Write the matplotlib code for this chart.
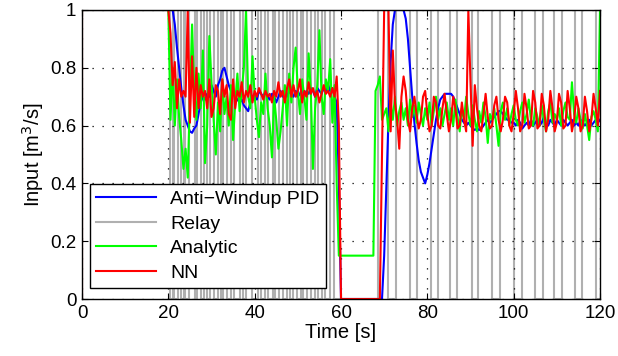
import numpy as np
import matplotlib
matplotlib.use("Agg")
import matplotlib.pyplot as plt

plt.rcParams['font.family'] = ['Liberation Sans', 'DejaVu Sans']

# ---- data ------------------------------------------------------------------
# sampled segments (0.5 s grid) : 20..60 s and 70..120 s
t_seg1 = np.arange(20, 60.001, 0.5)
t_seg2 = np.arange(70, 120.001, 0.5)

# Anti-Windup PID
pid_seg1 = [1.00, 1.00, 1.00, 0.95, 0.87, 0.80, 0.73, 0.67, 0.62, 0.60,
            0.58, 0.575, 0.59, 0.60, 0.64, 0.68, 0.70, 0.69, 0.71, 0.70,
            0.74, 0.72, 0.70, 0.74, 0.76, 0.79, 0.80, 0.77, 0.74, 0.72,
            0.72, 0.70, 0.69, 0.68, 0.69, 0.67, 0.66, 0.65, 0.68, 0.70,
            0.71, 0.69, 0.72, 0.71, 0.70, 0.72, 0.70, 0.69, 0.71, 0.70,
            0.68, 0.70, 0.72, 0.70, 0.71, 0.70, 0.72, 0.71, 0.70, 0.72,
            0.70, 0.71, 0.73, 0.70, 0.72, 0.71, 0.73, 0.72, 0.70, 0.73,
            0.72, 0.71, 0.73, 0.72, 0.74, 0.72, 0.73, 0.70, 0.68, 0.40,
            0.00]
pid_seg2 = [0.15, 0.38, 0.62, 0.82, 0.95, 1.00, 1.00, 1.00, 1.00, 1.00,
            0.97, 0.90, 0.80, 0.70, 0.61, 0.54, 0.48, 0.44, 0.42, 0.40,
            0.43, 0.47, 0.52, 0.57, 0.62, 0.66, 0.69, 0.70, 0.71, 0.71,
            0.71, 0.71, 0.70, 0.68, 0.66, 0.64, 0.62, 0.61, 0.60, 0.61,
            0.60, 0.59, 0.585, 0.59, 0.585, 0.59, 0.60, 0.61, 0.62, 0.61,
            0.62, 0.63, 0.64, 0.65, 0.65, 0.64, 0.63, 0.62, 0.62, 0.61,
            0.61, 0.60, 0.62, 0.61, 0.59, 0.60, 0.61, 0.60, 0.62, 0.60,
            0.61, 0.62, 0.60, 0.61, 0.63, 0.61, 0.60, 0.62, 0.61, 0.60,
            0.62, 0.61, 0.60, 0.62, 0.61, 0.60, 0.61, 0.62, 0.60, 0.61,
            0.60, 0.62, 0.61, 0.60, 0.61, 0.62, 0.60, 0.61, 0.62, 0.61,
            0.62]

# Analytic
ana_seg1 = [1.00, 0.62, 0.80, 0.60, 0.76, 0.63, 0.55, 0.45, 0.52, 0.42,
            0.70, 0.95, 0.72, 0.62, 0.78, 0.66, 0.86, 0.47, 0.60, 0.91,
            0.75, 0.62, 0.50, 0.68, 0.58, 0.76, 0.64, 0.70, 0.60, 0.74,
            0.55, 0.68, 0.78, 0.65, 0.72, 0.80, 1.00, 0.70, 0.66, 0.84,
            0.70, 0.62, 0.56, 0.68, 0.64, 0.78, 0.66, 0.60, 0.49, 0.70,
            0.62, 0.52, 0.58, 0.66, 0.74, 0.60, 0.78, 0.68, 0.80, 0.87,
            0.72, 0.64, 0.76, 0.70, 0.62, 0.85, 0.72, 0.45, 0.66, 0.74,
            0.93, 0.70, 0.64, 0.76, 0.72, 0.83, 0.61, 0.74, 0.40, 0.15,
            0.15]
ana_seg2 = [0.64, 0.66, 0.58, 0.68, 0.62, 0.70, 0.60, 0.65, 0.68, 0.62,
            0.66, 0.60, 0.69, 0.63, 0.67, 0.61, 0.68, 0.64, 0.60, 0.66,
            0.62, 0.68, 0.60, 0.65, 0.70, 0.62, 0.66, 0.60, 0.64, 0.68,
            0.62, 0.66, 0.60, 0.69, 0.63, 0.58, 0.66, 0.62, 0.70, 0.64,
            0.60, 0.67, 0.62, 0.58, 0.65, 0.61, 0.68, 0.63, 0.54, 0.64,
            0.62, 0.66, 0.60, 0.53, 0.65, 0.68, 0.62, 0.66, 0.60, 0.64,
            0.67, 0.62, 0.60, 0.65, 0.68, 0.61, 0.64, 0.69, 0.62, 0.60,
            0.66, 0.63, 0.60, 0.67, 0.62, 0.58, 0.65, 0.68, 0.61, 0.64,
            0.62, 0.66, 0.60, 0.65, 0.68, 0.63, 0.62, 0.75, 0.64, 0.61,
            0.66, 0.62, 0.59, 0.64, 0.60, 0.55, 0.63, 0.65, 0.62, 0.58,
            1.00]

# NN
nn_seg1 = [1.00, 0.92, 0.74, 0.82, 0.66, 0.76, 0.70, 0.72, 0.70, 1.00,
           0.61, 0.84, 0.63, 0.80, 0.66, 0.74, 0.70, 0.72, 0.66, 0.76,
           0.63, 0.66, 0.74, 0.72, 0.64, 0.76, 0.70, 0.74, 0.64, 0.62,
           0.76, 0.66, 0.72, 0.70, 0.75, 0.68, 0.72, 0.70, 0.74, 0.68,
           0.72, 0.70, 0.73, 0.71, 0.69, 0.72, 0.70, 0.71, 0.68, 0.72,
           0.70, 0.75, 0.70, 0.72, 0.68, 0.73, 0.76, 0.70, 0.74, 0.70,
           0.72, 0.76, 0.68, 0.72, 0.70, 0.75, 0.71, 0.73, 0.70, 0.72,
           0.68, 0.71, 0.74, 0.71, 0.72, 0.70, 0.73, 0.70, 0.77, 0.60,
           0.00]
nn_seg2 = [1.00, 1.00, 1.00, 0.58, 0.86, 0.68, 0.62, 0.52, 0.70, 0.77,
           0.72, 0.62, 0.58, 0.66, 0.70, 0.64, 0.59, 0.62, 0.70, 0.72,
           0.64, 0.58, 0.60, 0.70, 0.68, 0.60, 0.59, 0.66, 0.71, 0.64,
           0.58, 0.62, 0.70, 0.66, 0.59, 0.60, 0.68, 0.62, 0.58, 1.00,
           0.75, 0.53, 0.74, 0.66, 0.60, 0.58, 0.64, 0.71, 0.63, 0.59,
           0.60, 0.67, 0.70, 0.62, 0.58, 0.62, 0.70, 0.68, 0.60, 0.58,
           0.64, 0.72, 0.66, 0.58, 0.60, 0.71, 0.66, 0.59, 0.60, 0.72,
           0.68, 0.59, 0.60, 0.71, 0.67, 0.58, 0.62, 0.72, 0.66, 0.58,
           0.61, 0.71, 0.68, 0.59, 0.60, 0.72, 0.66, 0.58, 0.62, 0.70,
           0.66, 0.58, 0.60, 0.70, 0.65, 0.58, 0.62, 0.71, 0.66, 0.60,
           0.72]

# steady parts outside the sampled segments (time, value)
pid_pre_t, pid_pre_u = [0, 19.5], [1.0, 1.0]
pid_mid_t, pid_mid_u = [65.0, 69.5], [0.0, 0.0]
ana_pre_t, ana_pre_u = [0, 19.5], [1.0, 1.0]
ana_mid_t = [65.0, 67.5, 68.0, 68.5, 69.0, 69.5]
ana_mid_u = [0.15, 0.15, 0.72, 0.74, 0.77, 0.62]
nn_pre_t, nn_pre_u = [0, 0, 19.5], [0.0, 1.0, 1.0]
nn_mid_t, nn_mid_u = [65.0, 69.0, 69.5], [0.0, 0.0, 0.5]

# Relay: switching instants and the level held after each one
relay_t = [0, 20.3, 21.0, 21.3, 22.2, 22.9, 23.6, 23.9, 24.8, 26.1, 26.6,
           27.6, 28.3, 29.0, 29.6, 30.6, 31.5, 32.2, 32.7, 33.6, 34.5,
           35.2, 36.6, 37.3, 38.0, 39.3, 40.8, 41.4, 42.4, 43.1, 44.2,
           44.8, 45.6, 46.6, 47.5, 48.2, 48.9, 49.8, 50.7, 51.3, 52.1,
           53.0, 54.0, 54.6, 55.6, 56.4, 57.4, 58.4, 68.6, 70.9, 72.7,
           76.0, 77.6, 80.8, 82.5, 85.2, 86.9, 90.3, 91.7, 95.0, 96.8,
           100.1, 101.9, 104.9, 106.8, 109.3, 111.2, 114.2, 115.8, 119.0,
           120.0]
relay_u = [1, 0, 1, 0, 1, 0, 1, 0, 1, 0, 1,
           0, 1, 0, 1, 0, 1, 0, 1, 0, 1,
           0, 1, 0, 1, 0, 1, 0, 1, 0, 1,
           0, 1, 0, 1, 0, 1, 0, 1, 0, 1,
           0, 1, 0, 1, 0, 1, 0, 1, 0, 1,
           0, 1, 0, 1, 0, 1, 0, 1, 0, 1,
           0, 1, 0, 1, 0, 1, 0, 1, 0,
           0]

# ---- assemble ----------------------------------------------------------------
pid_t = np.concatenate([pid_pre_t, t_seg1, pid_mid_t, t_seg2])
pid_u = np.concatenate([pid_pre_u, pid_seg1, pid_mid_u, pid_seg2])
ana_t = np.concatenate([ana_pre_t, t_seg1, ana_mid_t, t_seg2])
ana_u = np.concatenate([ana_pre_u, ana_seg1, ana_mid_u, ana_seg2])
nn_t = np.concatenate([nn_pre_t, t_seg1, nn_mid_t, t_seg2])
nn_u = np.concatenate([nn_pre_u, nn_seg1, nn_mid_u, nn_seg2])

fig = plt.figure(figsize=(6.18, 3.56), dpi=100)
ax = fig.add_axes([82 / 618, 57 / 356, 518 / 618, 289 / 356])

lw = 1.5
h_pid, = ax.plot(pid_t, pid_u, color='#0000ff', lw=lw, zorder=3)
h_rel, = ax.plot(relay_t, relay_u, color='#b0b0b0', lw=lw,
                 drawstyle='steps-post', zorder=2)
h_ana, = ax.plot(ana_t, ana_u, color='#00ff00', lw=lw, zorder=4)
h_nn, = ax.plot(nn_t, nn_u, color='#ff0000', lw=lw, zorder=5)

fs = 13.5
ax.set_xlim(0, 120)
ax.set_ylim(0, 1)
ax.set_xticks(np.arange(0, 121, 20))
ax.set_yticks([0, 0.2, 0.4, 0.6, 0.8, 1])
ax.set_yticklabels(['0', '0.2', '0.4', '0.6', '0.8', '1'])
ax.tick_params(direction='in', top=True, right=True, length=4,
               labelsize=fs, pad=4, width=0.8)
ax.grid(True, color='black', linestyle=(0, (1, 7)), linewidth=0.9)
ax.set_axisbelow(False)
for s in ax.spines.values():
    s.set_linewidth(1.0)
    s.set_zorder(6)

ax.set_xlabel('Time [s]', fontsize=14.5, labelpad=1)
ax.set_ylabel('Input [m$^3$/s]', fontsize=14.5, labelpad=3)

leg = ax.legend([h_pid, h_rel, h_ana, h_nn],
                ['Anti\u2212Windup PID', 'Relay', 'Analytic', 'NN'],
                loc='lower left', bbox_to_anchor=(0.0154, 0.038),
                fontsize=14, handlelength=3.1, handletextpad=0.7,
                labelspacing=0.36, borderpad=0.32, borderaxespad=0,
                fancybox=False, framealpha=1, edgecolor='black')
leg.get_frame().set_linewidth(1.0)
leg.set_zorder(10)

fig.savefig('out.png', dpi=100)
